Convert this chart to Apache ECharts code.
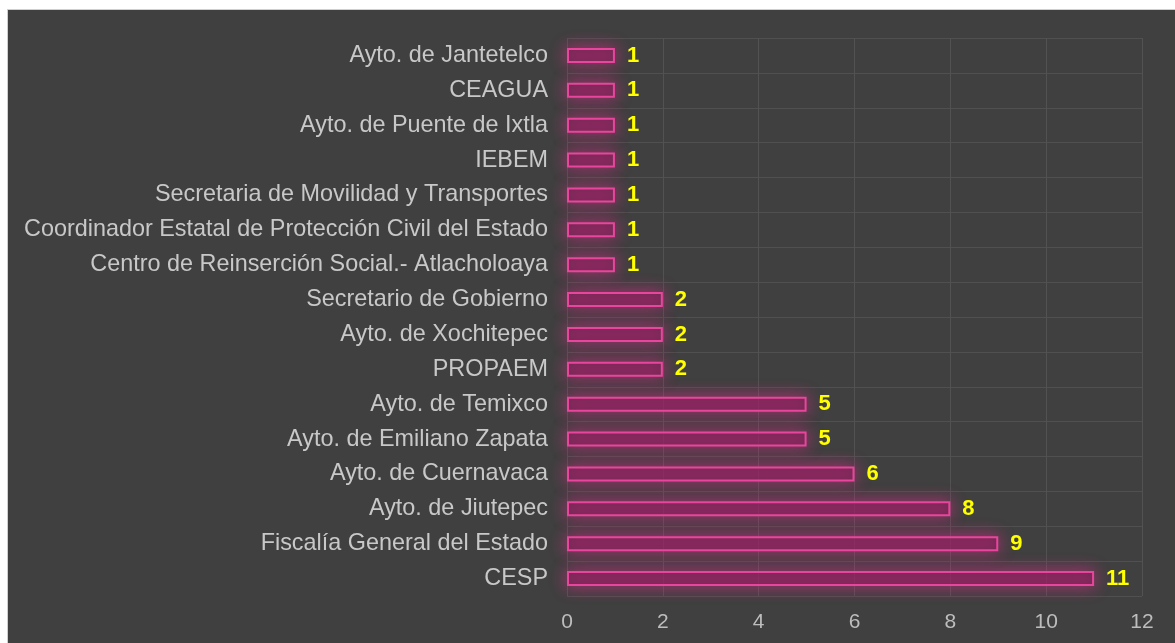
<!DOCTYPE html>
<html><head><meta charset="utf-8">
<script src="https://cdn.jsdelivr.net/npm/echarts@6/dist/echarts.min.js"></script>
<style>
html,body{margin:0;padding:0;background:#fff;width:1175px;height:643px;overflow:hidden}
#c{position:absolute;left:7px;top:9px;width:1168px;height:634px;background:#404040;border-top:1px solid #cfcfcf;border-left:1px solid #cfcfcf;box-sizing:border-box}
</style></head><body>
<div id="c"></div>
<script>
const categories = ["Ayto. de Jantetelco","CEAGUA","Ayto. de Puente de Ixtla","IEBEM","Secretaria de Movilidad y Transportes","Coordinador Estatal de Protección Civil del Estado","Centro de Reinserción Social.- Atlacholoaya","Secretario de Gobierno","Ayto. de Xochitepec","PROPAEM","Ayto. de Temixco","Ayto. de Emiliano Zapata","Ayto. de Cuernavaca","Ayto. de Jiutepec","Fiscalía General del Estado","CESP"];
const values = [1,1,1,1,1,1,1,2,2,2,5,5,6,8,9,11];
const xTicks = [0,2,4,6,8,10,12];

const chart = echarts.init(document.getElementById('c'));
chart.setOption({
  backgroundColor: '#404040',
  animation: false,
  grid: {left: 559, right: 33, top: 28, bottom: 47, containLabel: false},
  xAxis: {
    type: 'value', min: 0, max: 12, interval: 2,
    axisLine: {show: false}, axisTick: {show: false},
    axisLabel: {color: '#bdbdbd', fontSize: 21, fontFamily: 'Liberation Sans, Arial', margin: 16,
      formatter: v => xTicks.includes(v) ? String(v) : ''},
    splitLine: {show: true, lineStyle: {color: '#525252', width: 1}}
  },
  yAxis: {
    type: 'category', data: categories, inverse: true,
    axisLine: {show: false}, axisTick: {show: false},
    axisLabel: {color: '#c8c8c8', fontSize: 23.4, fontFamily: 'Liberation Sans, Arial', margin: 19},
    splitLine: {show: true, lineStyle: {color: '#505050', width: 1}}
  },
  series: [{
    type: 'bar', data: values, barWidth: 15,
    itemStyle: {color: 'rgba(115,30,80,0.55)', borderColor: '#e8469c', borderWidth: 2,
      shadowBlur: 16, shadowColor: 'rgba(235,40,145,1)'},
    label: {show: true, position: 'right', distance: 12, color: '#ffff00', fontWeight: 'bold',
      fontSize: 22, fontFamily: 'Liberation Sans, Arial'}
  }]
});
</script></body></html>
